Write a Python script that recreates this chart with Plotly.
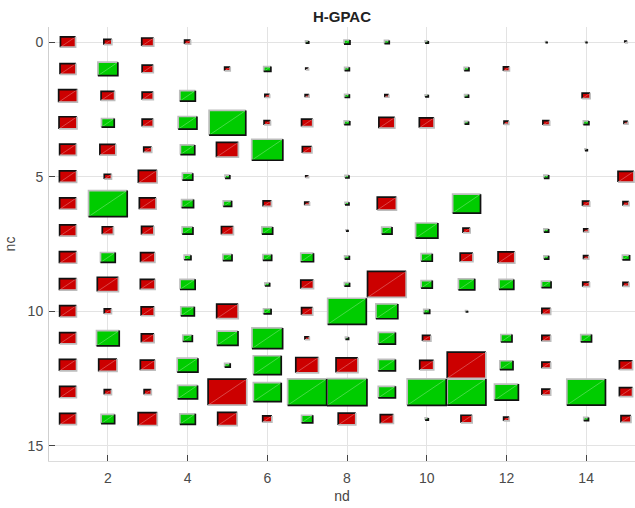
import plotly.graph_objects as go

# Hinton-style weight diagram: rows = nc, columns = nd
nd = list(range(1, 16))
nc = list(range(0, 15))

weights = [
    [-0.38, -0.20, -0.30, -0.15, 0.00, 0.00, 0.08, 0.15, 0.12, 0.08, 0.00, 0.00, 0.04, 0.04, -0.06],
    [-0.40, 0.50, -0.28, 0.00, -0.14, 0.18, -0.07, 0.12, 0.00, 0.00, 0.12, -0.15, 0.00, 0.00, 0.00],
    [-0.47, -0.34, -0.28, 0.39, 0.00, -0.12, -0.10, 0.12, -0.10, 0.08, 0.10, 0.00, 0.00, -0.20, 0.00],
    [-0.45, 0.32, -0.28, 0.47, 0.92, -0.16, -0.28, 0.14, -0.40, -0.37, 0.10, -0.12, -0.17, 0.14, -0.10],
    [-0.42, -0.40, -0.20, 0.36, -0.55, 0.78, -0.24, 0.00, 0.00, 0.00, 0.00, 0.00, 0.00, 0.06, 0.00],
    [-0.43, -0.18, -0.47, 0.26, 0.12, 0.00, -0.07, 0.10, 0.00, 0.00, 0.00, 0.00, 0.12, 0.00, -0.40],
    [-0.42, 0.97, -0.42, 0.30, 0.21, -0.21, -0.12, 0.10, -0.48, 0.00, 0.70, 0.00, 0.00, -0.18, -0.15],
    [-0.42, -0.28, -0.31, 0.27, -0.30, 0.27, 0.00, 0.05, 0.26, 0.56, -0.18, 0.00, 0.12, -0.12, 0.00],
    [-0.43, 0.37, -0.36, 0.17, 0.23, 0.22, 0.32, 0.12, 0.00, 0.28, -0.32, -0.42, 0.12, -0.13, 0.18],
    [-0.43, -0.53, -0.37, 0.38, 0.00, 0.12, -0.32, 0.13, -0.97, 0.28, 0.41, 0.37, 0.24, -0.17, -0.15],
    [-0.42, -0.18, -0.33, 0.34, -0.54, 0.19, -0.28, 0.97, 0.55, 0.15, 0.05, 0.00, -0.22, 0.00, 0.00],
    [-0.42, 0.57, -0.32, 0.24, 0.53, 0.77, -0.11, 0.08, 0.43, -0.21, 0.00, 0.28, -0.22, 0.27, 0.00],
    [-0.43, -0.46, -0.37, 0.52, 0.14, 0.70, -0.57, -0.55, 0.43, -0.35, -0.97, 0.33, -0.22, 0.00, -0.33],
    [-0.42, -0.18, -0.18, 0.50, -0.97, 0.70, 0.98, 1.00, 0.43, 0.98, 0.97, 0.60, -0.22, 0.97, -0.33],
    [-0.42, 0.34, -0.48, 0.39, -0.49, -0.23, 0.28, -0.44, -0.33, 0.08, -0.28, -0.14, 0.00, 0.12, -0.25],
]

x_ticks = [2, 4, 6, 8, 10, 12, 14]
y_ticks = [0, 5, 10, 15]

POS_COLOR = "#00cc00"
NEG_COLOR = "#cc0000"
DARK_EDGE = "#111111"
LIGHT_EDGE = "#bdbdbd"


def build_paths(sign):
    fill_x, fill_y = [], []
    tl_x, tl_y = [], []  # top + left edges
    br_x, br_y = [], []  # bottom + right edges
    dg_x, dg_y = [], []  # diagonal highlight
    for r, row in zip(nc, weights):
        for c, w in zip(nd, row):
            if w == 0 or (w > 0) != (sign > 0):
                continue
            h = abs(w) / 2.0
            x0, x1 = c - h, c + h
            ytop, ybot = r - h, r + h  # y axis reversed: smaller value is on top
            fill_x += [x0, x1, x1, x0, x0, None]
            fill_y += [ytop, ytop, ybot, ybot, ytop, None]
            tl_x += [x0, x0, x1, None]
            tl_y += [ybot, ytop, ytop, None]
            br_x += [x1, x1, x0, None]
            br_y += [ytop, ybot, ybot, None]
            dg_x += [x0, x1, None]
            dg_y += [ybot, ytop, None]
    return fill_x, fill_y, tl_x, tl_y, br_x, br_y, dg_x, dg_y


fig = go.Figure()

for sign, color in ((1, POS_COLOR), (-1, NEG_COLOR)):
    fx, fy, tx, ty, bx, by, dx, dy = build_paths(sign)
    # raised look for positive weights, sunken look for negative ones
    tl_color = LIGHT_EDGE if sign > 0 else DARK_EDGE
    br_color = DARK_EDGE if sign > 0 else LIGHT_EDGE
    fig.add_trace(go.Scatter(x=fx, y=fy, mode="lines", fill="toself",
                             fillcolor=color, line=dict(width=0, color=color),
                             hoverinfo="skip", showlegend=False))
    fig.add_trace(go.Scatter(x=dx, y=dy, mode="lines",
                             line=dict(width=0.8, color="rgba(255,255,255,0.35)"),
                             hoverinfo="skip", showlegend=False))
    fig.add_trace(go.Scatter(x=tx, y=ty, mode="lines",
                             line=dict(width=1.7, color=tl_color),
                             hoverinfo="skip", showlegend=False))
    fig.add_trace(go.Scatter(x=bx, y=by, mode="lines",
                             line=dict(width=1.7, color=br_color),
                             hoverinfo="skip", showlegend=False))

FONT = "Liberation Sans, Arial, sans-serif"
axis_font = dict(family=FONT, size=14, color="#4a4a4a")

fig.update_layout(
    width=635, height=508,
    margin=dict(l=49, r=0, t=27, b=47),
    paper_bgcolor="white", plot_bgcolor="white",
    title=dict(text="<b>H-GPAC</b>", x=0.5, xref="paper", xanchor="center",
               y=1 - 17 / 508, yref="container", yanchor="middle",
               font=dict(family=FONT, size=15, color="#222222")),
    xaxis=dict(range=[0.523, 15.226], tickvals=x_ticks, ticks="inside", ticklen=6,
               tickcolor="#444444", showgrid=True, gridcolor="#e3e3e3", gridwidth=1,
               zeroline=False, showline=True, linecolor="#dcdcdc", linewidth=1,
               tickfont=axis_font, ticklabelstandoff=4,
               title=dict(text="nd", font=dict(family=FONT, size=14, color="#444444"),
                          standoff=6)),
    yaxis=dict(range=[15.558, -0.558], tickvals=y_ticks, ticks="inside", ticklen=6,
               tickcolor="#444444", showgrid=True, gridcolor="#e3e3e3", gridwidth=1,
               zeroline=False, showline=True, linecolor="#cfcfcf", linewidth=1,
               tickfont=axis_font, ticklabelstandoff=2,
               title=dict(text="nc", font=dict(family=FONT, size=14, color="#444444"),
                          standoff=8)),
)

fig.write_html("out.html")
